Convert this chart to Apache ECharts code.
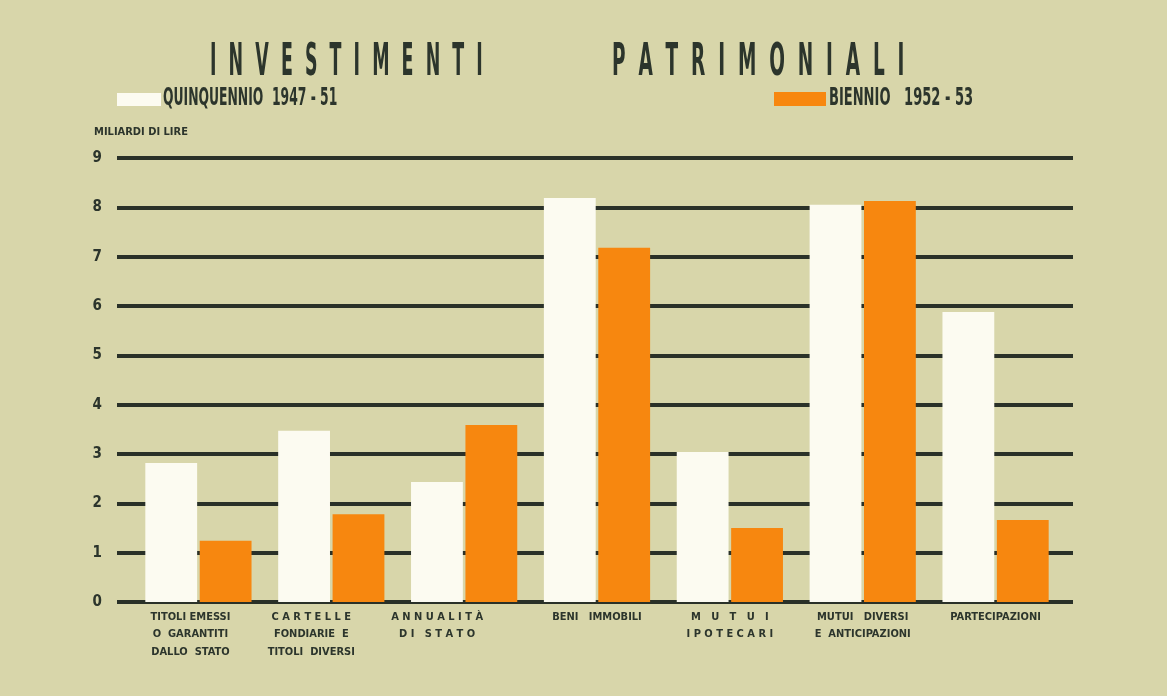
<!DOCTYPE html>
<html>
<head>
<meta charset="utf-8">
<script src="https://cdn.jsdelivr.net/npm/echarts@6/dist/echarts.min.js"></script>
<style>
  html, body { margin: 0; padding: 0; background: #d8d6aa; }
  #chart { width: 1167px; height: 696px; }
</style>
</head>
<body>
<div id="chart"></div>
<script>
const categories = [
  'TITOLI EMESSI\nO  GARANTITI\nDALLO  STATO',
  'C A R T E L L E\nFONDIARIE  E\nTITOLI  DIVERSI',
  'A N N U A L I T À\nD I   S T A T O',
  'BENI   IMMOBILI',
  'M   U   T   U   I\nI P O T E C A R I',
  'MUTUI   DIVERSI\nE  ANTICIPAZIONI',
  'PARTECIPAZIONI'
];
const seriesNames = ['QUINQUENNIO  1947 - 51', 'BIENNIO   1952 - 53'];
const quinquennio = [2.82, 3.47, 2.43, 8.19, 3.04, 8.05, 5.88];
const biennio = [1.24, 1.78, 3.59, 7.18, 1.50, 8.13, 1.66];
const titleWords = ['I  N  V  E  S  T  I  M  E  N  T  I', 'P  A  T  R  I  M  O  N  I  A  L  I'];
const unitName = 'MILIARDI DI LIRE';

const narrow = '"Liberation Sans Narrow", "DejaVu Sans Condensed", "Roboto Condensed", sans-serif';
const ink = '#2c352c';
const colors = ['#fcfbf1', '#f7870f'];

// the printed labels of the first groups sit a little left of their bars
const labelNudge = [16, 40, 54, 0, 0, 0, 0];

const chart = echarts.init(document.getElementById('chart'));

const option = {
  backgroundColor: '#d8d6aa',
  animation: false,
  graphic: [
    {
      type: 'text', left: 210, top: 42, scaleX: 0.44,
      style: { text: titleWords[0], font: 'bold 44px ' + narrow, fill: ink }
    },
    {
      type: 'text', left: 612, top: 42, scaleX: 0.467,
      style: { text: titleWords[1], font: 'bold 44px ' + narrow, fill: ink }
    },
    // legend captions (condensed lettering)
    {
      type: 'text', left: 163, top: 86, scaleX: 0.55,
      style: { text: seriesNames[0], font: 'bold 25px ' + narrow, fill: ink }
    },
    {
      type: 'text', left: 829, top: 86, scaleX: 0.58,
      style: { text: seriesNames[1], font: 'bold 25px ' + narrow, fill: ink }
    }
  ],
  legend: [
    {
      data: [seriesNames[0]], left: 112, top: 88,
      icon: 'rect', itemWidth: 44, itemHeight: 13,
      selectedMode: false, formatter: () => '',
      textStyle: { fontSize: 1 }
    },
    {
      data: [seriesNames[1]], left: 769, top: 87,
      icon: 'rect', itemWidth: 52, itemHeight: 14,
      selectedMode: false, formatter: () => '',
      textStyle: { fontSize: 1 }
    }
  ],
  grid: [
    // background rules
    { left: 117, right: 94, top: 158, bottom: 94 },
    // bars
    { left: 132, right: 105, top: 158, bottom: 94 }
  ],
  xAxis: [
    { type: 'value', gridIndex: 0, show: false, min: 0, max: 1 },
    {
      type: 'category', gridIndex: 1,
      data: categories.map((c, i) => ({ value: c, textStyle: { padding: [0, labelNudge[i], 0, 0] } })),
      axisLine: { show: false }, axisTick: { show: false },
      axisLabel: {
        color: ink, fontFamily: narrow, fontWeight: 'bold', fontSize: 11,
        lineHeight: 17.5, margin: 6, interval: 0, verticalAlign: 'top'
      }
    }
  ],
  yAxis: [
    {
      type: 'value', gridIndex: 0, min: 0, max: 9, interval: 1,
      name: unitName, nameLocation: 'end', nameGap: 20,
      nameTextStyle: { color: ink, fontFamily: narrow, fontWeight: 'bold', fontSize: 11, padding: [0, 0, 0, 48] },
      axisLine: { show: false }, axisTick: { show: false },
      axisLabel: { color: ink, fontFamily: narrow, fontWeight: 'bold', fontSize: 15, margin: 15 },
      splitLine: { show: true, lineStyle: { color: '#2a3128', width: 4 } }
    },
    { type: 'value', gridIndex: 1, min: 0, max: 9, show: false, splitLine: { show: false } }
  ],
  series: [
    {
      name: seriesNames[0], type: 'bar', xAxisIndex: 1, yAxisIndex: 1,
      data: quinquennio, barWidth: '39%', barGap: '5%',
      itemStyle: { color: colors[0] }
    },
    {
      name: seriesNames[1], type: 'bar', xAxisIndex: 1, yAxisIndex: 1,
      data: biennio, barWidth: '39%', barGap: '5%',
      itemStyle: { color: colors[1] }
    }
  ]
};

chart.setOption(option);
</script>
</body>
</html>
